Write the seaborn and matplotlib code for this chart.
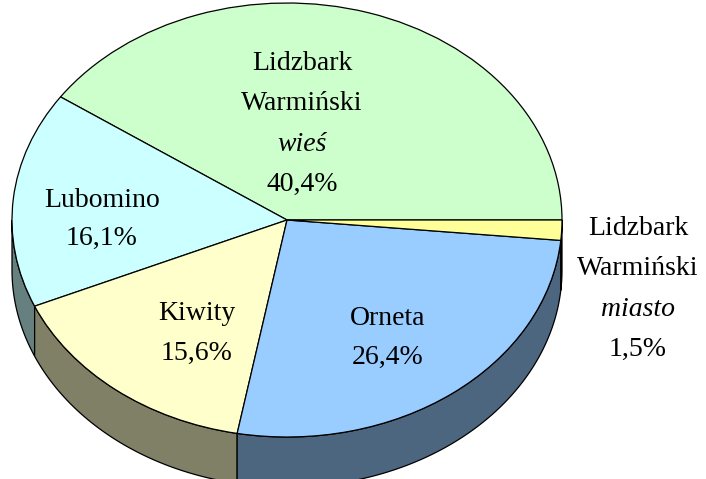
import numpy as np
import matplotlib
matplotlib.use("Agg")
import matplotlib.pyplot as plt
import seaborn as sns

# ---- data ----
names = ["Lidzbark\nWarmiński\nwieś", "Lubomino", "Kiwity", "Orneta",
         "Lidzbark\nWarmiński\nmiasto"]
values = [40.4, 16.1, 15.6, 26.4, 1.5]
pct_labels = ["40,4%", "16,1%", "15,6%", "26,4%", "1,5%"]
top_colors = ["#CCFFCC", "#CCFFFF", "#FFFFCC", "#99CCFF", "#FFFF99"]
side_colors = ["#668066", "#668080", "#808066", "#4D6680", "#80804D"]

sns.set_theme(style="white")
plt.rcParams["font.family"] = ["Liberation Serif", "DejaVu Serif"]

W, H = 706, 479
fig = plt.figure(figsize=(W / 100, H / 100), dpi=100)
ax = fig.add_axes([0, 0, 1, 1])

# ellipse geometry in pixels
CX, CY, RX, RY, DEPTH = 287, 220, 275, 217, 50


def px(x, y):
    return ((x - CX) / RX, (CY - y) / RY)


d = DEPTH / RY
fracs = np.array(values) / np.sum(values)
bounds = np.concatenate([[0], np.cumsum(fracs)]) * 360

# side walls (front half only)
for i in range(len(values)):
    lo, hi = max(bounds[i], 180), min(bounds[i + 1], 360)
    if hi <= lo:
        continue
    t = np.radians(np.linspace(lo, hi, 200))
    xs = np.concatenate([np.cos(t), np.cos(t[::-1])])
    ys = np.concatenate([np.sin(t), np.sin(t[::-1]) - d])
    ax.fill(xs, ys, facecolor=side_colors[i], edgecolor="black", lw=0.9, zorder=1)

# top face
ax.pie(values, colors=top_colors, startangle=0, counterclock=True, radius=1,
       center=(0, 0), frame=True,
       wedgeprops=dict(edgecolor="black", linewidth=0.9, zorder=2))

ax.set_aspect("auto")
x0, _ = px(0, 0)
x1, _ = px(W, 0)
_, ytop = px(0, 0)
_, ybot = px(0, H)
ax.set_xlim(x0, x1)
ax.set_ylim(ybot, ytop)
ax.axis("off")

# labels
label_pos = [(302, 63, 40.5), (102, 200, 38), (197, 313, 40), (388, 318, 39),
             (638, 228, 40.5)]
for name, pct, (lx, ly, step) in zip(names, pct_labels, label_pos):
    lines = name.split("\n") + [pct]
    for k, line in enumerate(lines):
        italic = (len(lines) == 4 and k == 2)
        ax.text(*px(lx, ly + k * step), line, ha="center", va="center",
                fontsize=20, style="italic" if italic else "normal",
                color="black", zorder=5)

fig.savefig("out.png", dpi=100)
